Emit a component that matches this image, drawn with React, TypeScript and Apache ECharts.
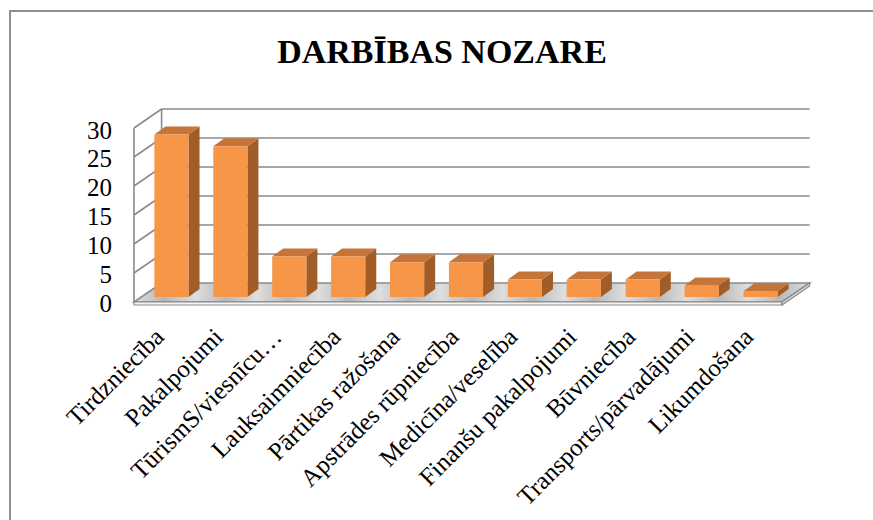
import React, { useEffect, useRef } from 'react';
import * as echarts from 'echarts';

const chartTitle = 'DARBĪBAS NOZARE';
const categories = [
  'Tirdzniecība',
  'Pakalpojumi',
  'TūrismS/viesnīcu…',
  'Lauksaimniecība',
  'Pārtikas ražošana',
  'Apstrādes rūpniecība',
  'Medicīna/veselība',
  'Finanšu pakalpojumi',
  'Būvniecība',
  'Transports/pārvadājumi',
  'Likumdošana',
];
const values = [28, 26, 7, 7, 6, 6, 3, 3, 3, 2, 1];
const yTicks = [0, 5, 10, 15, 20, 25, 30];
const yMax = 30;
const yStep = 5;

// oblique depth offsets (pixels) relative to the bar plane
const FRONT = { dx: -8, dy: 5 };
const BACK = { dx: 19.6, dy: -14 };
const BAR_D = { dx: 11, dy: -8 };

const GRID_COLOR = '#8a8a8a';
const FONT = 'Liberation Serif, serif';

export default function App() {
  const ref = useRef<HTMLDivElement>(null);

  useEffect(() => {
    if (!ref.current) return;
    const chart = echarts.init(ref.current, undefined, { renderer: 'svg' });

    const line = (x1: number, y1: number, x2: number, y2: number) => ({
      type: 'line',
      shape: { x1, y1, x2, y2 },
      style: { stroke: GRID_COLOR, lineWidth: 1.6 },
    });

    const renderWalls = (params: any, api: any) => {
      const cs = params.coordSys;
      const L = cs.x;
      const R = cs.x + cs.width;
      const v = api.value(1);
      const y = api.coord([0, v])[1];
      const children: any[] = [];
      if (v === 0) {
        const n = categories.length;
        const stops: any[] = [];
        for (let i = 0; i < n; i++) {
          stops.push({ offset: i / n, color: '#dedede' });
          stops.push({ offset: (i + 0.5) / n, color: '#b8b8b8' });
        }
        stops.push({ offset: 1, color: '#dedede' });
        children.push({
          type: 'polygon',
          shape: {
            points: [
              [L + FRONT.dx, y + FRONT.dy],
              [L + BACK.dx, y + BACK.dy],
              [R + BACK.dx, y + BACK.dy],
              [R + FRONT.dx, y + FRONT.dy],
            ],
          },
          style: {
            fill: new echarts.graphic.LinearGradient(0, 0, 1, 0, stops),
            stroke: GRID_COLOR,
            lineWidth: 1.6,
          },
        });
        children.push({
          type: 'polygon',
          shape: {
            points: [
              [L + FRONT.dx, y + FRONT.dy],
              [R + FRONT.dx, y + FRONT.dy],
              [R + FRONT.dx, y + FRONT.dy + 3],
              [L + FRONT.dx, y + FRONT.dy + 3],
            ],
          },
          style: { fill: '#f4f4f4', stroke: GRID_COLOR, lineWidth: 1.2 },
        });
        children.push({
          type: 'polygon',
          shape: {
            points: [
              [R + FRONT.dx, y + FRONT.dy],
              [R + BACK.dx, y + BACK.dy],
              [R + BACK.dx, y + BACK.dy + 3],
              [R + FRONT.dx, y + FRONT.dy + 3],
            ],
          },
          style: { fill: '#dcdcdc', stroke: GRID_COLOR, lineWidth: 1.2 },
        });
      } else {
        children.push(line(L + BACK.dx, y + BACK.dy, R + BACK.dx, y + BACK.dy));
        children.push(line(L + FRONT.dx, y + FRONT.dy, L + BACK.dx, y + BACK.dy));
      }
      if (v === yMax) {
        const y0 = api.coord([0, 0])[1];
        children.push(line(L + FRONT.dx, y0 + FRONT.dy, L + FRONT.dx, y + FRONT.dy));
        children.push(line(L + BACK.dx, y0 + BACK.dy, L + BACK.dx, y + BACK.dy));
      }
      return { type: 'group', children };
    };

    const renderBar = (params: any, api: any) => {
      const idx = api.value(0);
      const v = api.value(1);
      const base = api.coord([idx, 0]);
      const top = api.coord([idx, v]);
      const band = api.size([1, 0])[0];
      const w = band * 0.58;
      const x0 = base[0] - w / 2;
      const x1 = x0 + w;
      const yb = base[1];
      const yt = top[1];
      return {
        type: 'group',
        children: [
          {
            type: 'polygon',
            shape: {
              points: [
                [x1, yt],
                [x1 + BAR_D.dx, yt + BAR_D.dy],
                [x1 + BAR_D.dx, yb + BAR_D.dy],
                [x1, yb],
              ],
            },
            style: { fill: '#a15d28' },
          },
          {
            type: 'polygon',
            shape: {
              points: [
                [x0, yt],
                [x0 + BAR_D.dx, yt + BAR_D.dy],
                [x1 + BAR_D.dx, yt + BAR_D.dy],
                [x1, yt],
              ],
            },
            style: { fill: '#c57539' },
          },
          {
            type: 'rect',
            shape: { x: x0, y: yt, width: w, height: yb - yt },
            style: { fill: '#f79646' },
          },
        ],
      };
    };

    chart.setOption({
      animation: false,
      backgroundColor: '#ffffff',
      title: {
        text: chartTitle,
        left: 437,
        top: 29,
        textAlign: 'center',
        textStyle: { fontFamily: FONT, fontWeight: 'bold', fontSize: 34, color: '#000' },
      },
      graphic: [
        {
          type: 'rect',
          shape: { x: 10, y: 11, width: 1000, height: 1000 },
          style: { fill: 'none', stroke: '#8f8f8f', lineWidth: 2 },
          silent: true,
        },
      ],
      grid: [
        { left: 142, right: 83, top: 123, bottom: 223 },
        { left: 130, right: 95, top: 130, bottom: 216.5 },
      ],
      xAxis: [
        { type: 'category', gridIndex: 0, data: categories, show: false },
        {
          type: 'category',
          gridIndex: 1,
          data: categories,
          axisLine: { show: false },
          axisTick: { show: false },
          axisLabel: {
            interval: 0,
            rotate: 45,
            margin: 29,
            fontFamily: FONT,
            fontSize: 25,
            color: '#000',
          },
        },
      ],
      yAxis: [
        { type: 'value', gridIndex: 0, min: 0, max: yMax, interval: yStep, show: false },
        {
          type: 'value',
          gridIndex: 1,
          min: 0,
          max: yMax,
          interval: yStep,
          axisLine: { show: false },
          axisTick: { show: false },
          splitLine: { show: false },
          axisLabel: { margin: 18, fontFamily: FONT, fontSize: 25, color: '#000' },
        },
      ],
      series: [
        {
          type: 'custom',
          xAxisIndex: 0,
          yAxisIndex: 0,
          renderItem: renderWalls,
          data: yTicks.map((t) => [0, t]),
          encode: { x: 0, y: 1 },
          z: 1,
          silent: true,
        },
        {
          type: 'custom',
          xAxisIndex: 0,
          yAxisIndex: 0,
          renderItem: renderBar,
          data: values.map((v, i) => [i, v]),
          encode: { x: 0, y: 1 },
          z: 2,
        },
      ],
    });

    return () => chart.dispose();
  }, []);

  return (
    <div
      ref={ref}
      style={{ position: 'fixed', left: 0, top: 0, width: 873, height: 520, background: '#fff' }}
    />
  );
}
